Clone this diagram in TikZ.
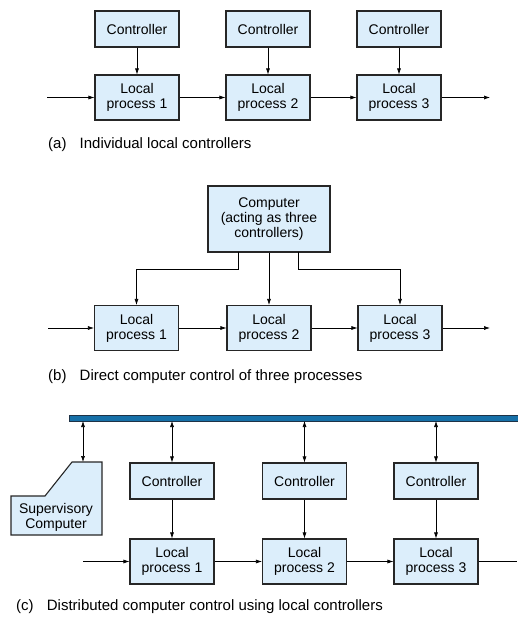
\documentclass[tikz,border=0pt]{standalone}
\usepackage{fontspec}
\setmainfont{Liberation Sans}
\usetikzlibrary{arrows.meta}
\definecolor{boxfill}{RGB}{220,238,251}
\definecolor{busblue}{RGB}{22,112,168}
\definecolor{busedge}{RGB}{30,50,70}
\begin{document}
\begin{tikzpicture}[x=1pt,y=-1pt,
  blk/.style={draw=black!85,line width=1.1pt,fill=boxfill,align=center,inner sep=0pt,
    font=\fontsize{14}{15}\selectfont},
  ctrl/.style={blk,minimum width=84pt,minimum height=36pt},
  proc/.style={blk,minimum width=84pt,minimum height=45pt},
  arr/.style={line width=0.6pt,-{Latex[length=6pt,width=4pt]}},
  darr/.style={line width=0.6pt,{Latex[length=6pt,width=4pt]}-{Latex[length=6pt,width=4pt]}},
  ln/.style={line width=0.6pt},
  captxt/.style={anchor=west,inner sep=0pt,font=\fontsize{15}{16}\selectfont}]
\useasboundingbox (0,0) rectangle (517,618);
% (a)
\node[ctrl] (ca1) at (137,29) {Controller};
\node[ctrl] (ca2) at (268,29) {Controller};
\node[ctrl] (ca3) at (399,29) {Controller};
\node[proc] (pa1) at (137,97.5) {Local\\process 1};
\node[proc] (pa2) at (268,97.5) {Local\\process 2};
\node[proc] (pa3) at (399,97.5) {Local\\process 3};
\coordinate (ina) at (47,97.5);
\coordinate (outa) at (490,97.5);
\draw[arr] (ca1) -- (pa1);
\draw[arr] (ca2) -- (pa2);
\draw[arr] (ca3) -- (pa3);
\draw[arr] (ina) -- (pa1);
\draw[arr] (pa1) -- (pa2);
\draw[arr] (pa2) -- (pa3);
\draw[arr] (pa3) -- (outa);
\node[captxt] (capa) at (48,145) {(a)\hspace{0.6em} Individual local controllers};
% (b)
\node[blk,minimum width=122pt,minimum height=66pt] (comp) at (269,219) {Computer\\(acting as three\\controllers)};
\node[proc] (pb1) at (136.5,328) {Local\\process 1};
\node[proc] (pb2) at (269,328) {Local\\process 2};
\node[proc] (pb3) at (400,328) {Local\\process 3};
\coordinate (cL) at (238,252);
\coordinate (cR) at (298,252);
\coordinate (kL) at (136.5,269);
\coordinate (kR) at (400,269);
\coordinate (inb) at (48,328);
\coordinate (outb) at (490,328);
\draw[arr] (cL) |- (kL) -- (pb1.north);
\draw[arr] (comp.south) -- (pb2.north);
\draw[arr] (cR) |- (kR) -- (pb3.north);
\draw[arr] (inb) -- (pb1);
\draw[arr] (pb1) -- (pb2);
\draw[arr] (pb2) -- (pb3);
\draw[arr] (pb3) -- (outb);
\node[captxt] (capb) at (48,377) {(b)\hspace{0.6em} Direct computer control of three processes};
% (c)
\draw[draw=busedge,fill=busblue,line width=0.8pt] (69,415.5) rectangle (518,421);
\coordinate (bus0) at (83,421);
\coordinate (bus1) at (172,421);
\coordinate (bus2) at (304.5,421);
\coordinate (bus3) at (436,421);
\draw[blk] (11,496) -- (45,496) -- (72,462) -- (102,462) -- (102,535) -- (11,535) -- cycle;
\node[align=center,inner sep=0pt,font=\fontsize{14}{15}\selectfont] (sup) at (56,517) {Supervisory\\Computer};
\coordinate (supTop) at (83,462);
\node[ctrl] (cc1) at (172,481) {Controller};
\node[ctrl] (cc2) at (304.5,481) {Controller};
\node[ctrl] (cc3) at (436,481) {Controller};
\node[proc] (pc1) at (172,561.5) {Local\\process 1};
\node[proc] (pc2) at (304.5,561.5) {Local\\process 2};
\node[proc] (pc3) at (436,561.5) {Local\\process 3};
\coordinate (inc) at (83,561.5);
\coordinate (outc) at (517,561.5);
\draw[darr] (bus0) -- (supTop);
\draw[darr] (bus1) -- (cc1);
\draw[darr] (bus2) -- (cc2);
\draw[darr] (bus3) -- (cc3);
\draw[arr] (cc1) -- (pc1);
\draw[arr] (cc2) -- (pc2);
\draw[arr] (cc3) -- (pc3);
\draw[arr] (inc) -- (pc1);
\draw[arr] (pc1) -- (pc2);
\draw[arr] (pc2) -- (pc3);
\draw[ln] (pc3) -- (outc);
\node[captxt] (capc) at (16,607) {(c)\hspace{0.6em} Distributed computer control using local controllers};
\end{tikzpicture}
\end{document}
